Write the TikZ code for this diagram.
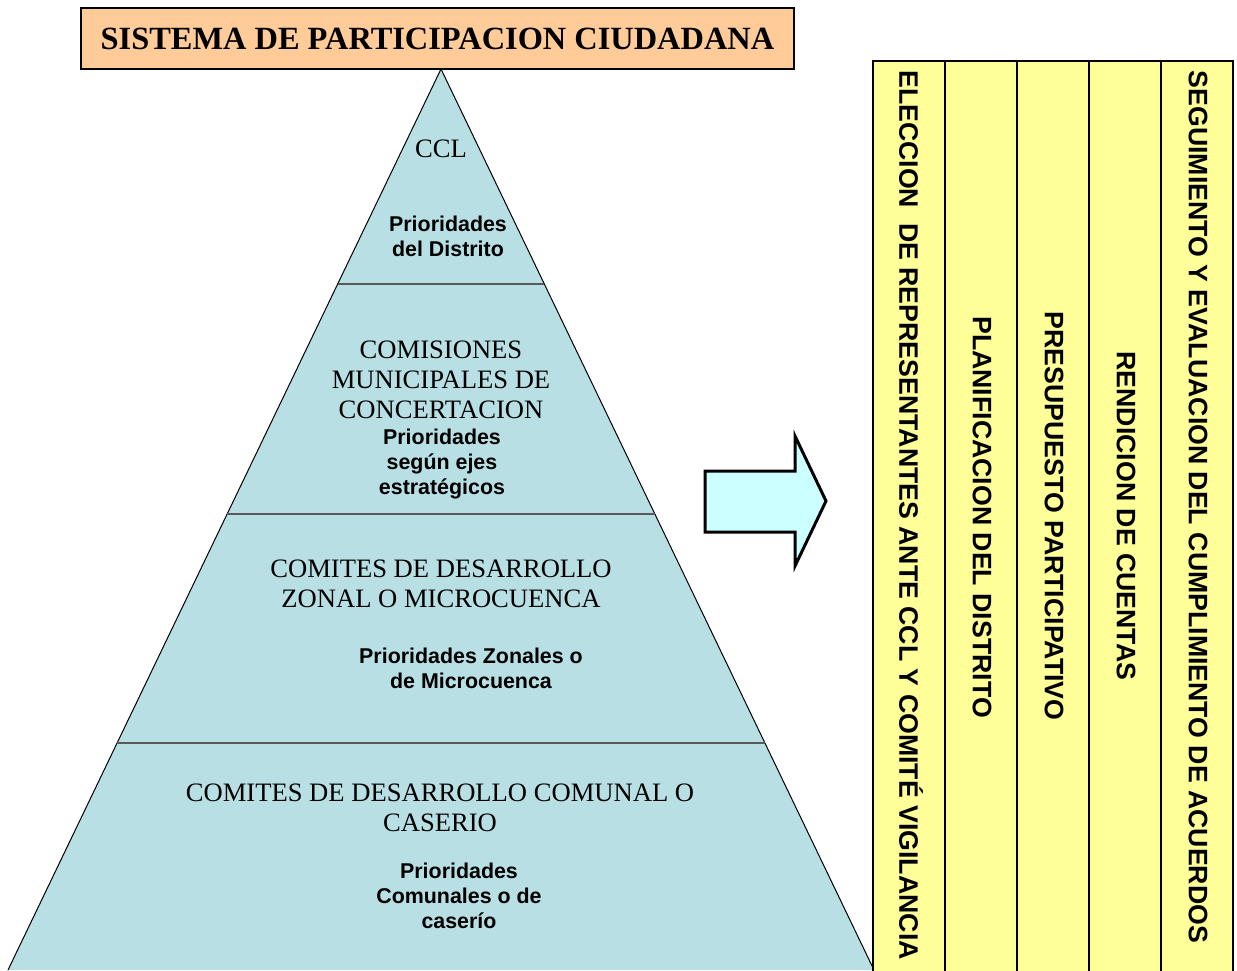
\documentclass[tikz,border=0pt]{standalone}
\usepackage{fontspec}
\setmainfont{Liberation Serif}
\setsansfont{Liberation Sans}
\usetikzlibrary{calc}
\definecolor{titleorange}{HTML}{FFCC99}
\definecolor{pyrblue}{HTML}{B8DFE3}
\definecolor{arrowcyan}{HTML}{CCFFFF}
\definecolor{colyellow}{HTML}{FFFF99}
\tikzstyle{title}=[draw,line width=1pt,fill=titleorange,font=\bfseries\fontsize{16.2}{19}\selectfont,minimum width=356.5pt,minimum height=30.5pt,inner sep=0pt]
\tikzstyle{level}=[font=\fontsize{13.3}{15}\selectfont,align=center,inner sep=0pt]
\tikzstyle{prio}=[font=\sffamily\bfseries\fontsize{10.7}{12.5}\selectfont,align=center,inner sep=0pt]
\tikzstyle{stage}=[font=\sffamily\bfseries\fontsize{13.35}{15}\selectfont,rotate=-90,inner sep=0pt]
\tikzstyle{band}=[draw=black!65,line width=1.1pt]
\tikzstyle{column}=[draw,line width=1pt,fill=colyellow]
\tikzstyle{bigarrow}=[draw,line width=1.5pt,fill=arrowcyan,line join=miter]

\begin{document}
\begin{tikzpicture}[x=0.5pt,y=-0.5pt]
    \path[use as bounding box] (0,0) rectangle (1237,970);
    \clip (0,0) rectangle (1237,970);

    % The pyramid and its bands
    \coordinate (apex) at (441,69);
    \coordinate (bl) at (8,970);
    \coordinate (br) at (874,970);
    \fill[pyrblue] (apex) -- (bl) -- (br) -- cycle;
    \draw[line width=0.5pt] (bl) -- (apex) -- (br);
    \foreach \t in {0.2386,0.4939,0.748}
        \path[band] ($(apex)!\t!(bl)$) -- ($(apex)!\t!(br)$);

    % Title
    \node[title] (sistema) at (437.5,38.5) {SISTEMA DE PARTICIPACION CIUDADANA};

    % Levels of the pyramid
    \node[level] (ccl) at (441,149) {CCL};
    \node[prio] (ccl prio) at (448,236) {Prioridades\\del Distrito};
    \node[level] (comisiones) at (441,380) {COMISIONES\\MUNICIPALES DE\\CONCERTACION};
    \node[prio] (comisiones prio) at (442,464) {Prioridades\\según ejes\\estratégicos};
    \node[level] (zonal) at (441,584) {COMITES DE DESARROLLO\\ZONAL O MICROCUENCA};
    \node[prio] (zonal prio) at (471,668) {Prioridades Zonales o\\de Microcuenca};
    \node[level] (comunal) at (440,808) {COMITES DE DESARROLLO COMUNAL O\\CASERIO};
    \node[prio] (comunal prio) at (459,896) {Prioridades\\Comunales o de\\caserío};

    % Arrow
    \path[bigarrow] (705,471) -- (795,471) -- (795,436) -- (826,501) -- (795,566) -- (795,532) -- (705,532) -- cycle;

    % Columns of the process
    \foreach \i in {0,...,4}
        \path[column] ({873+72*\i},980) -- ({873+72*\i},61) -- ({945+72*\i},61) -- ({945+72*\i},980);
    \foreach \pos/\name/\txt in {{(911,515)/eleccion/ELECCION\ \ DE REPRESENTANTES ANTE CCL Y COMITÉ VIGILANCIA},
                                 {(982,517)/planificacion/PLANIFICACION DEL DISTRITO},
                                 {(1054,516)/presupuesto/PRESUPUESTO PARTICIPATIVO},
                                 {(1126,516)/rendicion/RENDICION DE CUENTAS},
                                 {(1198,507)/seguimiento/SEGUIMIENTO Y EVALUACION DEL CUMPLIMIENTO DE ACUERDOS}}
        \node[stage] (\name) at \pos {\txt};
\end{tikzpicture}
\end{document}
